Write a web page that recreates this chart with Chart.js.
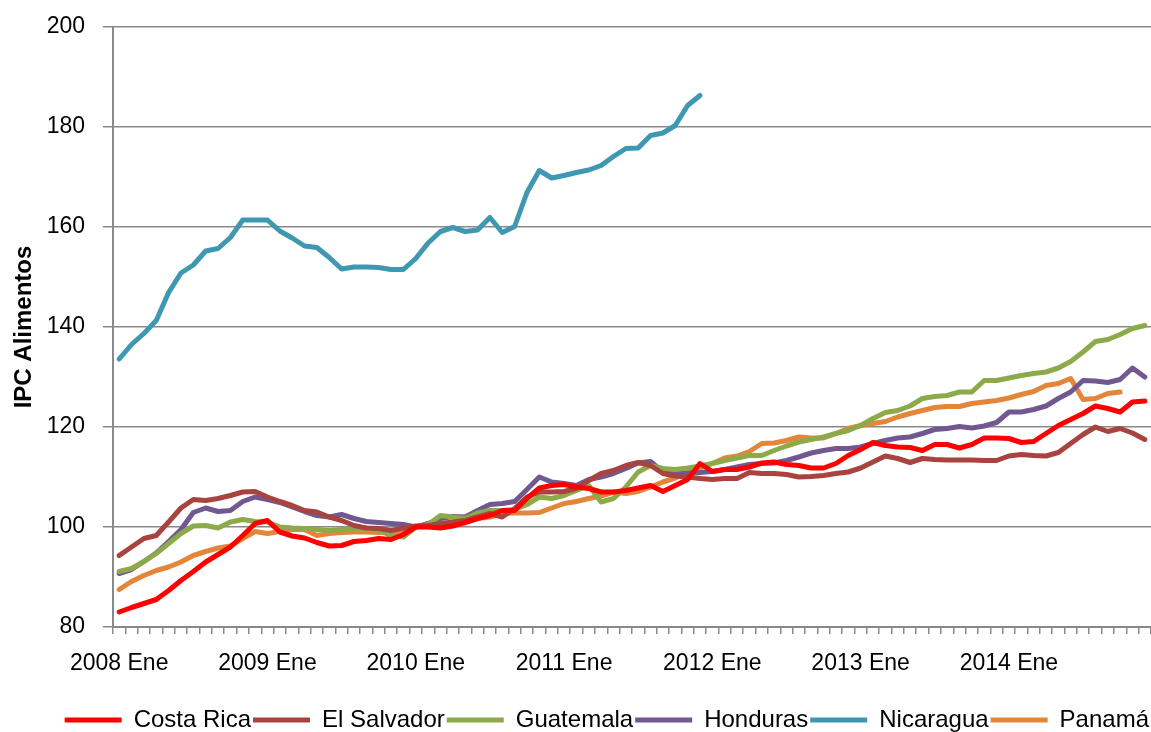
<!DOCTYPE html>
<html>
<head>
<meta charset="utf-8">
<title>IPC Alimentos</title>
<script src="https://cdn.jsdelivr.net/npm/chart.js@4.4.1/dist/chart.umd.min.js"></script>
<style>
    html, body { margin: 0; padding: 0; background: #fff; }
    #chart { display: block; }
</style>
</head>
<body>
<canvas id="chart" width="1151" height="732"></canvas>
<script>
// monthly food price index, 2008 Ene .. 2014 Dic
var years = [2008, 2009, 2010, 2011, 2012, 2013, 2014];
var months = ['Ene', 'Feb', 'Mar', 'Abr', 'May', 'Jun', 'Jul', 'Ago', 'Sep', 'Oct', 'Nov', 'Dic'];

var costaRica = [
    83.0, 83.9, 84.7, 85.5, 87.3, 89.3, 91.1, 93.0, 94.5, 96.0, 98.3, 100.7,
    101.3, 99.0, 98.2, 97.8, 96.9, 96.2, 96.3, 97.1, 97.3, 97.7, 97.5, 98.5,
    100.0, 100.0, 99.8, 100.2, 100.9, 101.7, 102.3, 103.3, 103.3, 105.7, 107.8, 108.3,
    108.5, 108.0, 107.7, 107.0, 107.0, 107.3, 107.8, 108.3, 107.1, 108.3, 109.5, 112.7,
    111.1, 111.5, 111.5, 112.0, 112.8, 113.0, 112.5, 112.3, 111.8, 111.8, 112.7, 114.3,
    115.5, 116.9, 116.3, 116.0, 115.9, 115.3, 116.5, 116.5, 115.8, 116.5, 117.8, 117.8,
    117.7, 116.9, 117.1, 118.7, 120.3, 121.5, 122.7, 124.2, 123.7, 123.0, 125.0, 125.2
];
var elSalvador = [
    94.3, 96.0, 97.7, 98.3, 101.0, 103.8, 105.5, 105.3, 105.7, 106.3, 107.0, 107.1,
    106.0, 105.1, 104.3, 103.3, 103.0, 102.0, 101.3, 100.3, 99.8, 99.7, 99.3, 99.8,
    100.2, 100.3, 100.7, 101.0, 101.3, 102.0, 102.7, 102.0, 103.7, 106.0, 107.0, 107.0,
    107.1, 107.7, 109.3, 110.7, 111.3, 112.3, 112.9, 112.3, 110.7, 110.2, 110.0, 109.7,
    109.5, 109.7, 109.7, 110.9, 110.7, 110.7, 110.5, 110.0, 110.1, 110.3, 110.7, 111.0,
    111.8, 113.0, 114.2, 113.7, 112.9, 113.7, 113.5, 113.4, 113.4, 113.4, 113.3, 113.3,
    114.2, 114.5, 114.3, 114.2, 114.9, 116.7, 118.5, 120.0, 119.1, 119.7, 118.8, 117.5
];
var guatemala = [
    91.1, 91.7, 93.1, 94.7, 96.7, 98.7, 100.2, 100.3, 99.8, 101.0, 101.5, 101.1,
    101.0, 100.0, 99.8, 99.7, 99.5, 99.3, 99.5, 99.7, 99.8, 99.3, 98.3, 98.0,
    100.0, 100.5, 102.3, 102.0, 101.7, 102.8, 103.3, 103.3, 103.5, 104.5, 106.0, 105.7,
    106.3, 107.3, 108.3, 105.0, 105.7, 108.0, 111.0, 112.3, 111.7, 111.5, 111.8, 112.2,
    112.7, 113.3, 113.8, 114.3, 114.3, 115.3, 116.2, 117.0, 117.5, 118.0, 118.7, 119.3,
    120.3, 121.7, 122.9, 123.3, 124.2, 125.7, 126.1, 126.3, 127.0, 127.0, 129.3, 129.3,
    129.8, 130.3, 130.7, 131.0, 131.8, 133.1, 135.0, 137.1, 137.5, 138.5, 139.7, 140.3
];
var honduras = [
    90.7, 91.5, 93.1, 94.8, 97.1, 99.5, 102.9, 103.8, 103.1, 103.3, 105.1, 106.0,
    105.5, 104.9, 104.0, 103.1, 102.3, 102.0, 102.5, 101.7, 101.1, 100.9, 100.7, 100.5,
    100.0, 100.7, 101.7, 102.1, 102.0, 103.3, 104.5, 104.7, 105.1, 107.5, 110.0, 109.0,
    108.7, 108.3, 109.5, 110.0, 110.7, 111.7, 112.8, 113.1, 111.0, 110.7, 110.8, 110.9,
    111.1, 111.5, 112.0, 112.5, 112.7, 112.8, 113.3, 114.0, 114.8, 115.3, 115.7, 115.7,
    116.0, 116.7, 117.3, 117.8, 118.0, 118.7, 119.5, 119.7, 120.1, 119.8, 120.2, 120.9,
    123.0, 123.0, 123.5, 124.2, 125.7, 127.0, 129.3, 129.2, 128.9, 129.5, 131.8, 130.0
];
// Nicaragua only goes to 2011 Dic
var nicaragua = [
    133.6, 136.5, 138.7, 141.3, 146.9, 150.8, 152.4, 155.2, 155.7, 157.9, 161.4, 161.4,
    161.4, 159.2, 157.8, 156.2, 155.9, 153.9, 151.6, 152.0, 152.0, 151.9, 151.5, 151.5,
    153.7, 156.8, 159.1, 159.9, 159.1, 159.4, 161.9, 158.9, 160.1, 166.9, 171.3, 169.8,
    170.3, 170.9, 171.4, 172.3, 174.1, 175.7, 175.8, 178.3, 178.8, 180.3, 184.3, 186.3
];
// Panamá stops at 2014 Oct
var panama = [
    87.5, 89.1, 90.3, 91.3, 92.0, 93.0, 94.3, 95.1, 95.8, 96.2, 97.7, 99.1,
    98.7, 99.1, 99.5, 99.5, 98.3, 98.7, 98.9, 99.0, 99.0, 98.9, 99.0, 99.2,
    100.0, 100.3, 100.5, 100.9, 101.1, 101.7, 102.0, 102.7, 102.8, 102.8, 102.9, 103.8,
    104.7, 105.1, 105.7, 106.2, 107.0, 106.7, 107.1, 108.0, 109.0, 109.8, 111.0, 111.8,
    112.7, 113.8, 114.2, 115.1, 116.7, 116.8, 117.3, 118.0, 117.8, 117.8, 118.7, 119.7,
    120.3, 120.7, 121.1, 122.0, 122.7, 123.3, 123.9, 124.1, 124.1, 124.7, 125.0, 125.3,
    125.8, 126.5, 127.1, 128.3, 128.7, 129.7, 125.5, 125.7, 126.7, 127.0
];

var yTicks = { min: 80, max: 200, step: 20 };

var categories = [];
for (var y = 0; y < years.length; y++) {
    for (var m = 0; m < months.length; m++) {
        categories.push(years[y] + ' ' + months[m]);
    }
}

var sans = "'Liberation Sans', Arial, sans-serif";
var gridGrey = '#898989';

var line = function (label, data, color) {
    return {
        label: label,
        data: data,
        borderColor: color,
        backgroundColor: color,
        borderWidth: 5,
        borderCapStyle: 'round',
        borderJoinStyle: 'round',
        pointRadius: 0,
        pointHoverRadius: 0,
        tension: 0,
        fill: false
    };
};

// legend adds ~10px of empty space under the row, take it back
var legendSqueeze = {
    id: 'legendSqueeze',
    beforeLayout: function (chart) {
        var lg = chart.legend;
        if (lg && !lg._squeezed) {
            var fit = lg.fit;
            lg.fit = function () {
                fit.call(this);
                this.height -= 10;
            };
            lg._squeezed = true;
        }
    }
};

var ctx = document.getElementById('chart').getContext('2d');

var myChart = new Chart(ctx, {
    type: 'line',
    data: {
        labels: categories,
        datasets: [
            line('Costa Rica', costaRica, '#FF0000'),
            line('El Salvador', elSalvador, '#A8433F'),
            line('Guatemala', guatemala, '#8DAA4B'),
            line('Honduras', honduras, '#725891'),
            line('Nicaragua', nicaragua, '#3F98B1'),
            line('Panamá', panama, '#E3863A')
        ]
    },
    plugins: [legendSqueeze],
    options: {
        responsive: false,
        animation: false,
        events: [],
        layout: {
            padding: { top: 27, right: 0, bottom: 0, left: 0 }
        },
        plugins: {
            tooltip: { enabled: false },
            legend: {
                position: 'bottom',
                align: 'end',
                labels: {
                    color: '#000',
                    font: { family: sans, size: 24 },
                    usePointStyle: true,
                    pointStyle: 'line',
                    pointStyleWidth: 57,
                    boxHeight: 6,
                    padding: 2
                }
            }
        },
        scales: {
            x: {
                offset: true,
                grid: {
                    offset: true,
                    drawOnChartArea: false,
                    drawTicks: true,
                    tickLength: 7,
                    color: gridGrey,
                    lineWidth: 1.5
                },
                border: { display: true, color: gridGrey, width: 2 },
                ticks: {
                    autoSkip: false,
                    maxRotation: 0,
                    minRotation: 0,
                    padding: 16,
                    color: '#000',
                    font: { family: sans, size: 23 },
                    callback: function (val, index) {
                        // only January gets a label
                        return index % 12 === 0 ? categories[index] : '';
                    }
                },
                afterFit: function (scale) {
                    scale.height = 79;
                    scale.paddingLeft = 0;
                    scale.paddingRight = 0;
                }
            },
            y: {
                min: yTicks.min,
                max: yTicks.max,
                grid: {
                    color: gridGrey,
                    lineWidth: 1.5,
                    drawTicks: true,
                    tickLength: 10
                },
                border: { display: true, color: gridGrey, width: 2 },
                ticks: {
                    stepSize: yTicks.step,
                    padding: 18,
                    color: '#000',
                    font: { family: sans, size: 23 }
                },
                title: {
                    display: true,
                    text: 'IPC Alimentos',
                    color: '#000',
                    font: { family: sans, size: 24, weight: 'bold' },
                    padding: { top: 10, bottom: 0 }
                },
                afterFit: function (scale) {
                    scale.width = 113;
                    scale.paddingTop = 0;
                    scale.paddingBottom = 0;
                }
            }
        }
    }
});
</script>
</body>
</html>
